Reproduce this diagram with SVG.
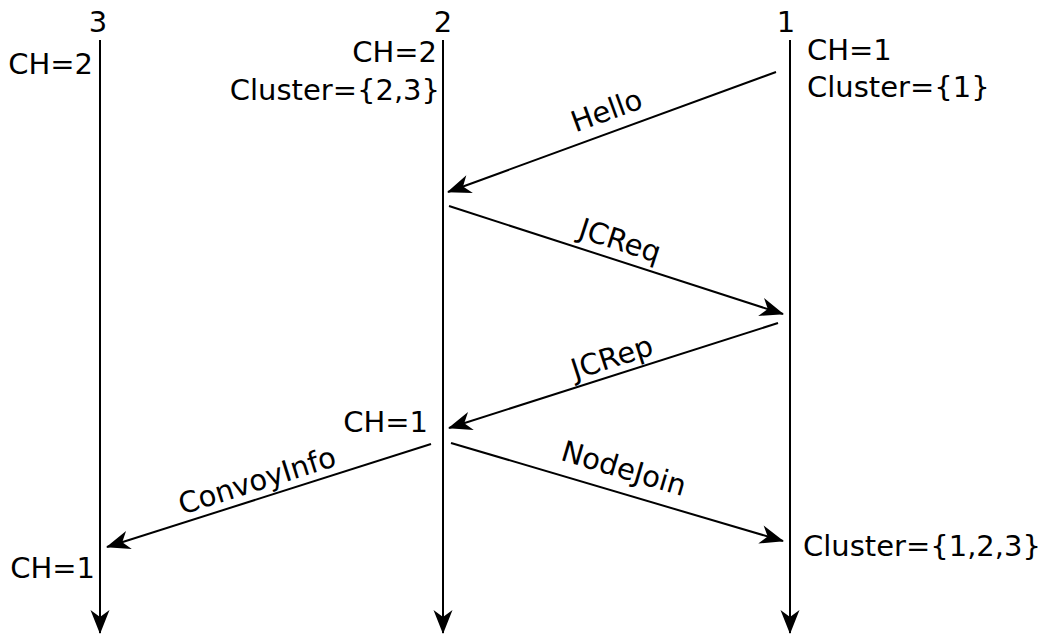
<svg xmlns="http://www.w3.org/2000/svg" width="1046" height="637" viewBox="0 0 1046 637">
<style>
text{font-family:"DejaVu Sans",sans-serif;font-size:29px;fill:#000}
.line{stroke:#000;stroke-width:2;fill:none}
.end{text-anchor:end}
.mid{text-anchor:middle}
</style>
<defs>
<marker id="ah" viewBox="-26 -11 28 22" refX="0" refY="0" markerWidth="28" markerHeight="22" markerUnits="userSpaceOnUse" orient="auto">
<path d="M1,0 L-23,-9.5 L-16,0 L-23,9.5 Z" fill="#000"/>
</marker>
</defs>
<rect width="1046" height="637" fill="#fff"/>
<g id="node3">
<text x="98" y="32" class="mid">3</text>
<text x="93" y="74" class="end">CH=2</text>
<text x="95" y="578" class="end">CH=1</text>
</g>
<g id="node2">
<text x="443" y="32" class="mid">2</text>
<text x="437" y="62" class="end">CH=2</text>
<text x="440" y="100" class="end">Cluster={2,3}</text>
<text x="428" y="432" class="end">CH=1</text>
</g>
<g id="node1">
<text x="786" y="32" class="mid">1</text>
<text x="807" y="60">CH=1</text>
<text x="807" y="97">Cluster={1}</text>
<text x="803" y="556">Cluster={1,2,3}</text>
</g>
<g id="connectors">
<line class="line" x1="100" y1="40" x2="100" y2="633" marker-end="url(#ah)"/>
<line class="line" x1="443" y1="40" x2="443" y2="633" marker-end="url(#ah)"/>
<line class="line" x1="790" y1="40" x2="790" y2="633" marker-end="url(#ah)"/>
<line class="line" x1="776" y1="72" x2="448" y2="192" marker-end="url(#ah)"/>
<line class="line" x1="449" y1="206" x2="783" y2="314" marker-end="url(#ah)"/>
<line class="line" x1="778" y1="323" x2="449" y2="428" marker-end="url(#ah)"/>
<line class="line" x1="431" y1="444" x2="107" y2="547" marker-end="url(#ah)"/>
<line class="line" x1="451" y1="443" x2="783" y2="541" marker-end="url(#ah)"/>
<text class="mid" transform="translate(610,120) rotate(-20)">Hello</text>
<text class="mid" transform="translate(617,250) rotate(18)">JCReq</text>
<text class="mid" transform="translate(615,367) rotate(-18)">JCRep</text>
<text class="mid" transform="translate(260,490) rotate(-17.6)">ConvoyInfo</text>
<text class="mid" transform="translate(621,478) rotate(16.5)">NodeJoin</text>
</g>
</svg>
